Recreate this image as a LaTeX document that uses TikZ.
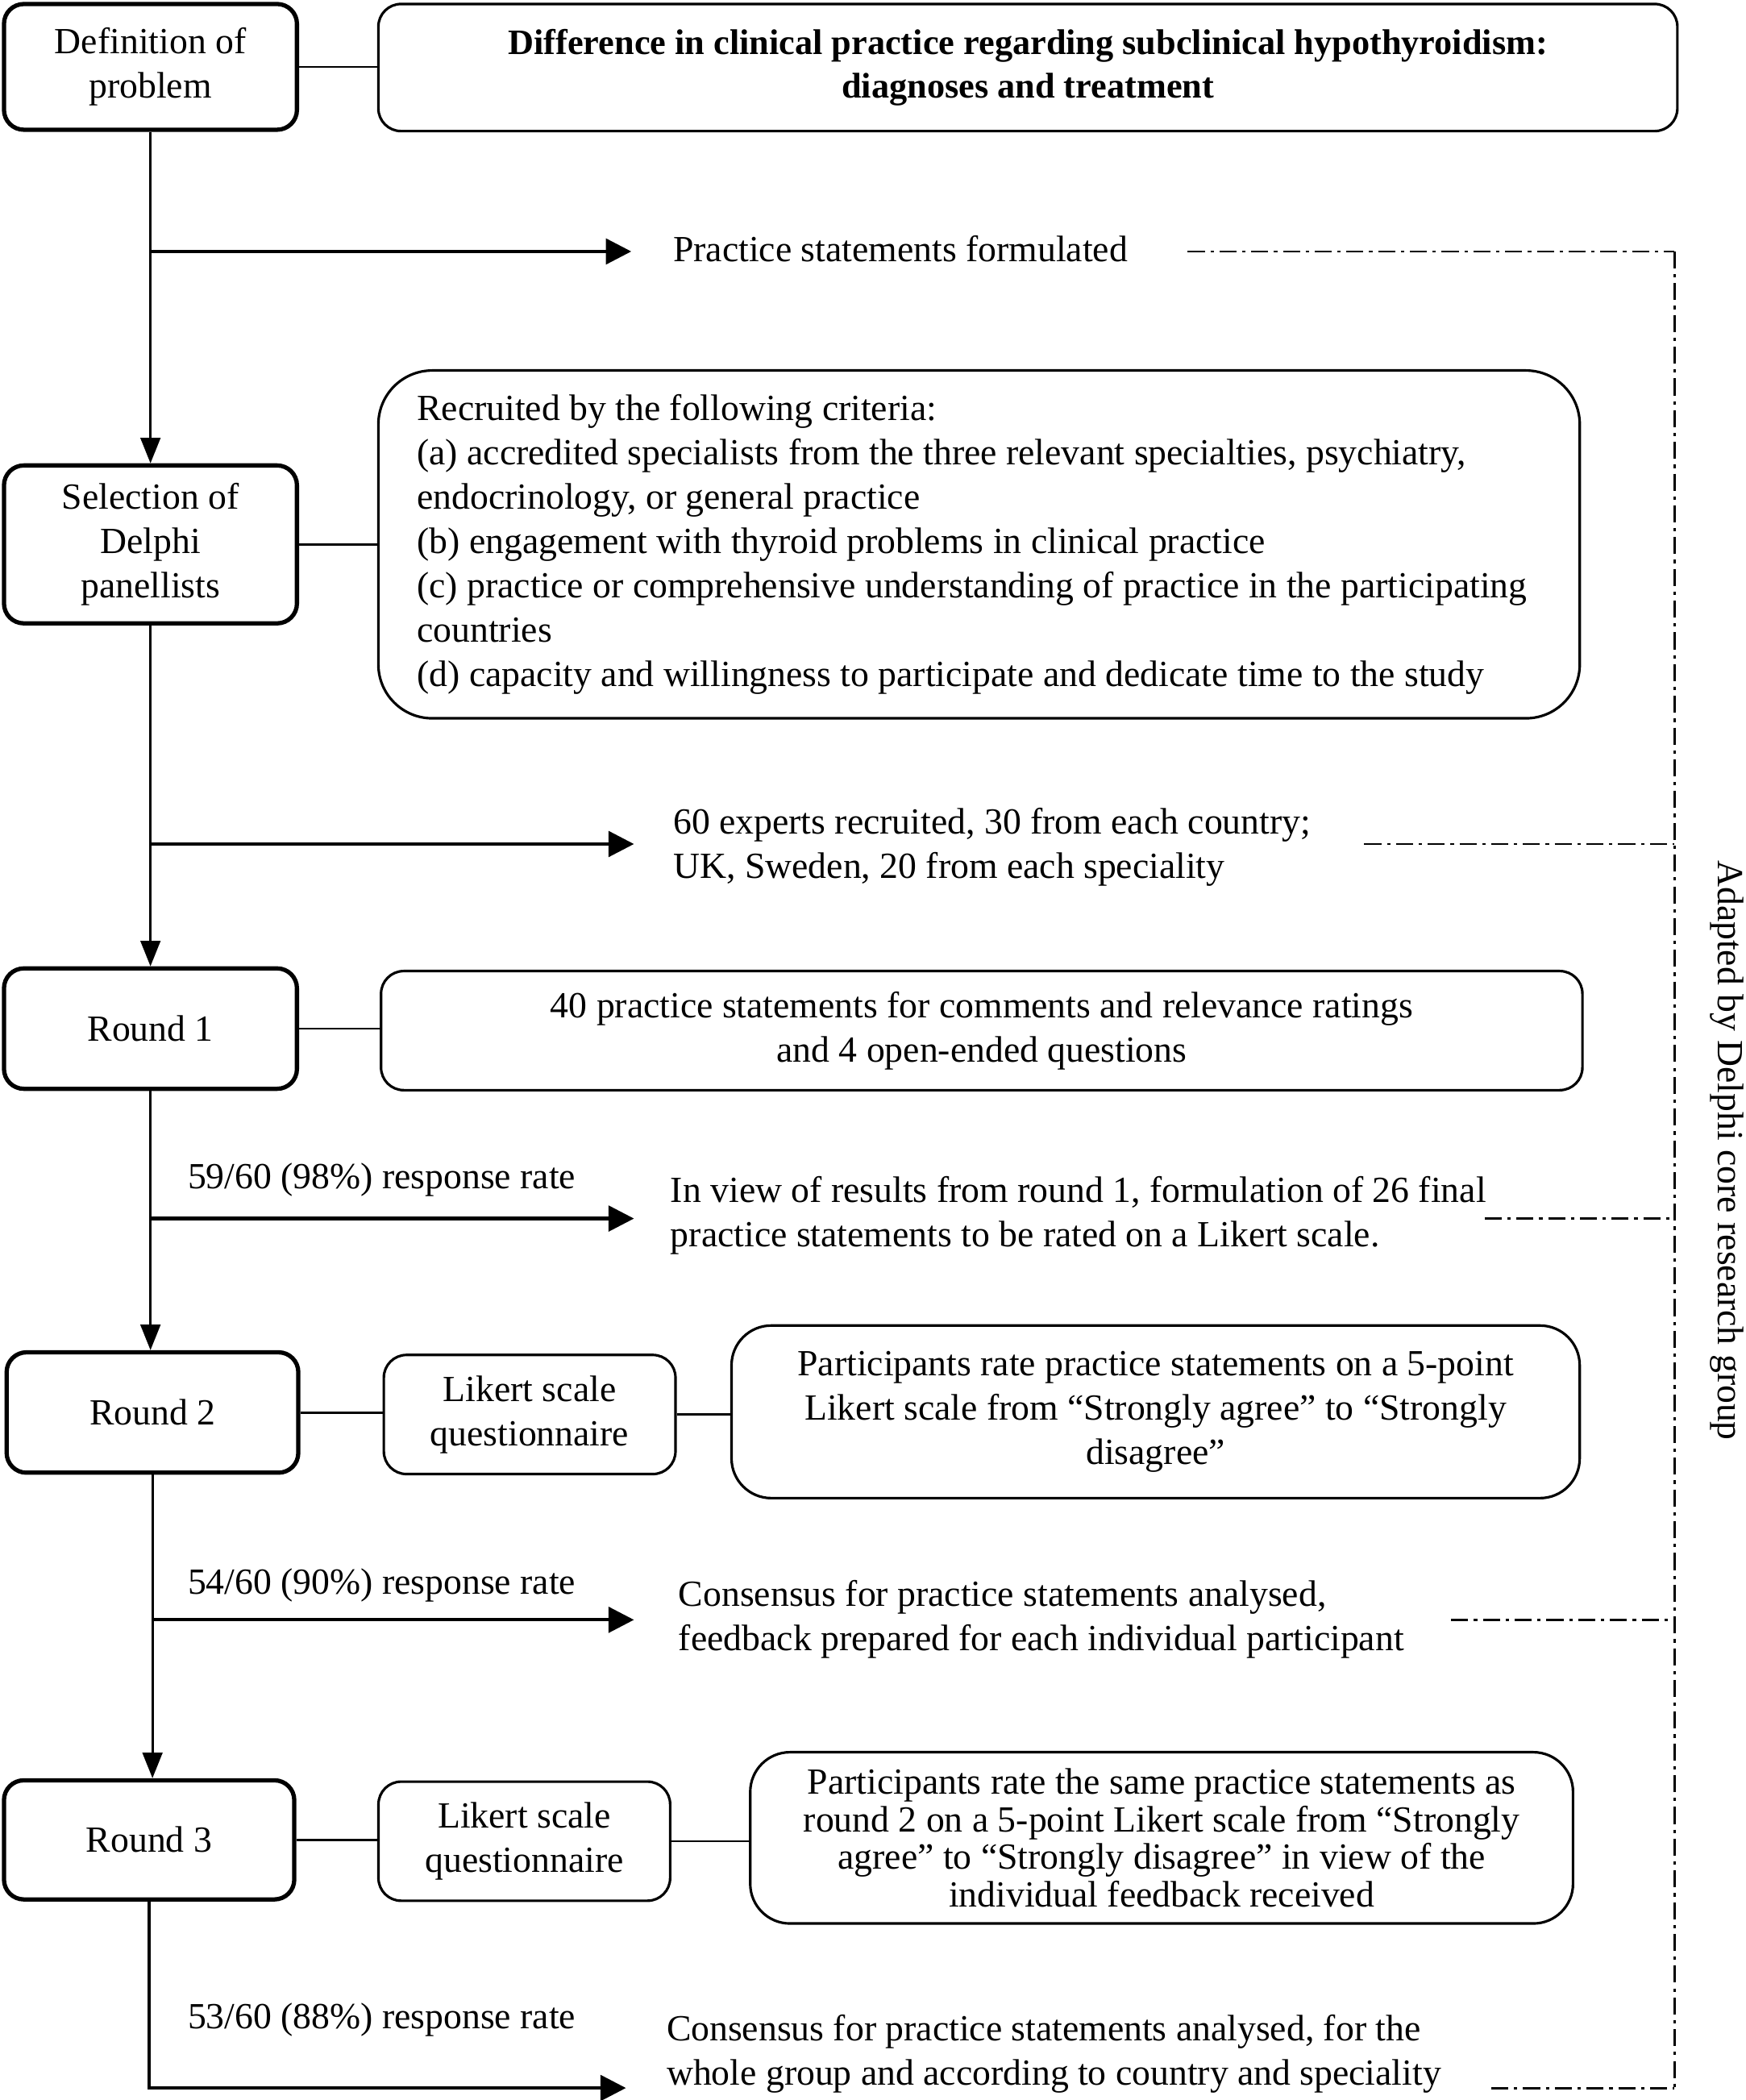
\documentclass[tikz,border=0pt]{standalone}
\usepackage{fontspec}
\setmainfont{Liberation Serif}
\usetikzlibrary{arrows.meta}
\begin{document}
\begin{tikzpicture}[x=0.01659cm,y=-0.01659cm,
  every node/.style={font=\fontsize{13}{15.6}\selectfont},
  thickbox/.style={draw, line width=1.5pt, rounded corners=7pt, align=center, inner sep=0pt},
  thinbox/.style={draw, line width=0.9pt, rounded corners=8pt, align=center, inner sep=0pt},
  txt/.style={inner sep=0pt, align=left, anchor=west},
  link/.style={line width=0.8pt},
  varrow/.style={line width=0.8pt, -{Triangle[length=9pt,width=7pt]}},
  harrow/.style={line width=1.2pt, -{Triangle[length=9pt,width=9pt]}},
  dd/.style={line width=0.8pt, dash pattern=on 6pt off 2pt on 1.2pt off 2pt}]
\useasboundingbox (0,0) rectangle (1305,1570);
% left column
\node[thickbox, minimum width=3.633cm, minimum height=1.559cm] (def) at (112.5,50) {Definition of\\problem};
\node[thickbox, minimum width=3.633cm, minimum height=1.958cm] (sel) at (112.5,407) {Selection of\\Delphi\\panellists};
\node[thickbox, minimum width=3.633cm, minimum height=1.493cm] (r1) at (112.5,769) {Round 1};
\node[thickbox, minimum width=3.617cm, minimum height=1.493cm] (r2) at (114,1056) {Round 2};
\node[thickbox, minimum width=3.600cm, minimum height=1.477cm] (r3) at (111.5,1375.5) {Round 3};
% right boxes
\node[thinbox, minimum width=16.109cm, minimum height=1.576cm, font=\fontsize{12.6}{15.6}\selectfont\bfseries] (title) at (768.5,50.5) {Difference in clinical practice regarding subclinical hypothyroidism:\\diagnoses and treatment};
\node[thinbox, rounded corners=19pt, align=flush left, text width=13.94cm, minimum width=14.898cm, minimum height=4.313cm] (crit) at (732,407) {Recruited by the following criteria:\\
(a) accredited specialists from the three relevant specialties, psychiatry,\\
endocrinology, or general practice\\
(b) engagement with thyroid problems in clinical practice\\
(c) practice or comprehensive understanding of practice in the participating\\
countries\\
(d) capacity and willingness to participate and dedicate time to the study};
\node[thinbox, minimum width=14.898cm, minimum height=1.477cm] (r1t) at (734,770.5) {40 practice statements for comments and relevance ratings\\and 4 open-ended questions};
\node[thinbox, minimum width=3.617cm, minimum height=1.477cm] (lk2) at (396,1057.5) {Likert scale\\questionnaire};
\node[thinbox, rounded corners=14pt, minimum width=10.518cm, minimum height=2.140cm] (p2) at (864,1055.5) {Participants rate practice statements on a 5-point\\Likert scale from “Strongly agree” to “Strongly\\disagree”};
\node[thinbox, minimum width=3.617cm, minimum height=1.477cm] (lk3) at (392,1376.5) {Likert scale\\questionnaire};
\node[thinbox, rounded corners=14pt, minimum width=10.203cm, minimum height=2.124cm, font=\fontsize{13}{13.2}\selectfont] (p3) at (868.5,1374) {Participants rate the same practice statements as\\round 2 on a 5-point Likert scale from “Strongly\\agree” to “Strongly disagree” in view of the\\individual feedback received};
% side texts
\node[txt] (s1) at (503,186) {Practice statements formulated};
\node[txt] (s2) at (503,633.5) {60 experts recruited, 30 from each country;\\UK, Sweden, 20 from each speciality};
\node[txt] (s3) at (501,908.5) {In view of results from round 1, formulation of 26 final\\practice statements to be rated on a Likert scale.};
\node[txt] (s4) at (507,1210.5) {Consensus for practice statements analysed,\\feedback prepared for each individual participant};
\node[txt] (s5) at (498,1535.5) {Consensus for practice statements analysed, for the\\whole group and according to country and speciality};
\node[txt] (l3) at (140,882) {59/60 (98\%) response rate};
\node[txt] (l4) at (140,1185) {54/60 (90\%) response rate};
\node[txt] (l5) at (140,1510) {53/60 (88\%) response rate};
\node[inner sep=0pt, rotate=-90] (adapt) at (1291,860) {Adapted by Delphi core research group};
% links
\draw[link] (def.east) -- (def.east -| title.west);
\draw[link] (sel.east) -- (sel.east -| crit.west);
\draw[link] (r1.east) -- (r1.east -| r1t.west);
\draw[link] (r2.east) -- (r2.east -| lk2.west);
\draw[link] (lk2.east) -- (lk2.east -| p2.west);
\draw[link] (r3.east) -- (r3.east -| lk3.west);
\draw[link] (lk3.east) -- (lk3.east -| p3.west);
% main flow
\draw[varrow] (def.south) -- (sel.north);
\draw[varrow] (sel.south) -- (r1.north);
\draw[varrow] (r1.south) -- (r1.south |- r2.north);
\draw[varrow] (r2.south) -- (r2.south |- r3.north);
% branch arrows
\coordinate (t1) at (472,188);
\coordinate (t2) at (474,631);
\coordinate (t3) at (474,911);
\coordinate (t4) at (474,1211);
\coordinate (t5) at (468,1561);
\draw[harrow] (def.south |- t1) -- (t1);
\draw[harrow] (sel.south |- t2) -- (t2);
\draw[harrow] (r1.south |- t3) -- (t3);
\draw[harrow] (r2.south |- t4) -- (t4);
\draw[harrow] (r3.south) |- (t5);
% dash-dot group line
\coordinate (dtop) at (1252,188);
\coordinate (dbot) at (1252,1561);
\coordinate (e1) at (888,188);
\coordinate (e2) at (1020,631);
\coordinate (e3) at (1110,911);
\coordinate (e4) at (1085,1211);
\coordinate (e5) at (1115,1561);
\draw[dd] (dtop) -- (dbot);
\draw[dd] (e1) -- (e1 -| dtop);
\draw[dd] (e2) -- (e2 -| dtop);
\draw[dd] (e3) -- (e3 -| dtop);
\draw[dd] (e4) -- (e4 -| dtop);
\draw[dd] (e5) -- (e5 -| dtop);
\end{tikzpicture}
\end{document}
